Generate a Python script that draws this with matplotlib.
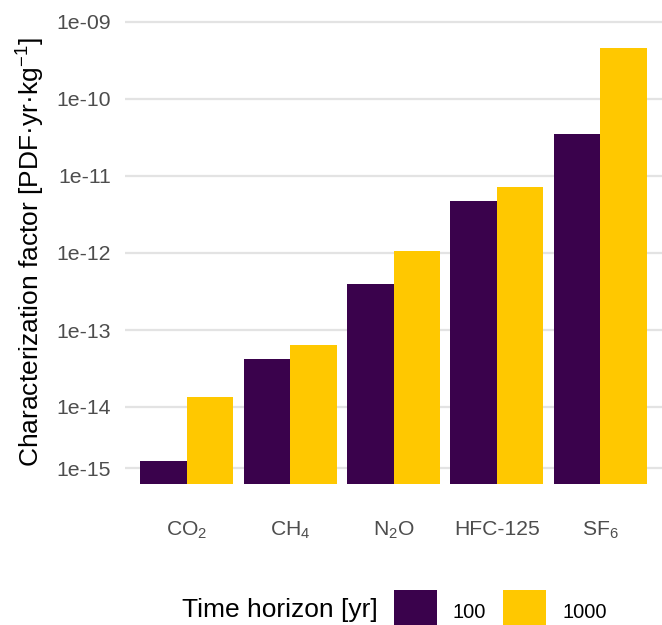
import numpy as np
import matplotlib
matplotlib.use("Agg")
import matplotlib.pyplot as plt
from matplotlib.patches import Rectangle
from matplotlib.ticker import FixedLocator, FixedFormatter

plt.rcParams["font.family"] = ["Liberation Sans", "DejaVu Sans"]
plt.rcParams["mathtext.fontset"] = "custom"
plt.rcParams["mathtext.rm"] = "Liberation Sans"
plt.rcParams["mathtext.it"] = "Liberation Sans:italic"
plt.rcParams["mathtext.bf"] = "Liberation Sans:bold"

# Characterization factors per gas and time horizon
gases = ["CO$_2$", "CH$_4$", "N$_2$O", "HFC-125", "SF$_6$"]
horizons = ["100", "1000"]
cf_100 = [1.5e-15, 4.2e-14, 4.0e-13, 4.7e-12, 3.5e-11]
cf_1000 = [1.34e-14, 6.4e-14, 1.06e-12, 7.2e-12, 4.55e-10]
colors = ["#3a024c", "#ffc800"]

y_ticks = [1e-15, 1e-14, 1e-13, 1e-12, 1e-11, 1e-10, 1e-09]
y_tick_labels = ["1e-15", "1e-14", "1e-13", "1e-12", "1e-11", "1e-10", "1e-09"]

# pseudo-log transform (asinh) so bars can start at zero
sigma = 1e-15
def fwd(v):
    return np.arcsinh(np.asarray(v) / (2 * sigma))
def inv(u):
    return 2 * sigma * np.sinh(np.asarray(u))

W, H = 662, 625
fig = plt.figure(figsize=(W / 100, H / 100), dpi=100)
ax_left, ax_right, ax_top, ax_bottom = 125, 662, 8, 506
ax = fig.add_axes([ax_left / W, 1 - ax_bottom / H,
                   (ax_right - ax_left) / W, (ax_bottom - ax_top) / H])
ax.set_yscale("function", functions=(fwd, inv))

x = np.arange(len(gases))
bw = 0.45
for i, (vals, c) in enumerate(zip([cf_100, cf_1000], colors)):
    ax.bar(x + (i - 0.5) * bw, vals, width=bw, color=c, linewidth=0,
           label=horizons[i], zorder=2)

ax.set_xlim(-0.6, len(gases) - 0.4)
ax.set_ylim(inv(-0.645), inv(14.22))
ax.yaxis.set_major_locator(FixedLocator(y_ticks))
ax.yaxis.set_major_formatter(FixedFormatter(y_tick_labels))
ax.yaxis.set_minor_locator(FixedLocator([]))
ax.set_xticks(x)
ax.set_xticklabels(gases)
ax.tick_params(axis="y", length=0, pad=10, labelsize=15.3, labelcolor="#4d4d4d")
ax.tick_params(axis="x", length=0, pad=10, labelsize=15.2, labelcolor="#4d4d4d")
ax.grid(axis="y", color="#e3e3e3", linewidth=1.6, zorder=0)
ax.grid(axis="x", visible=False)
ax.set_axisbelow(True)
for s in ax.spines.values():
    s.set_visible(False)

fig.text(31 / W, 1 - 252 / H, "Characterization factor [PDF·yr·kg$^{-1}$]",
         rotation=90, ha="center", va="center", fontsize=19.0, color="black")

# legend along the bottom: title, then a colour key and label per horizon
baseline = 1 - 617.5 / H
fig.text(182 / W, baseline, "Time horizon [yr]", ha="left", va="baseline",
         fontsize=19, color="black")
key_x = [394, 503]
key_w, key_h, key_top = 43, 43, 590
for kx, lab, c in zip(key_x, horizons, colors):
    fig.patches.append(Rectangle((kx / W, 1 - (key_top + key_h) / H),
                                 key_w / W, key_h / H, transform=fig.transFigure,
                                 facecolor=c, edgecolor="none"))
    fig.text((kx + key_w + 16) / W, baseline, lab, ha="left", va="baseline",
             fontsize=14.5, color="black")

fig.savefig("out.png", dpi=100)
